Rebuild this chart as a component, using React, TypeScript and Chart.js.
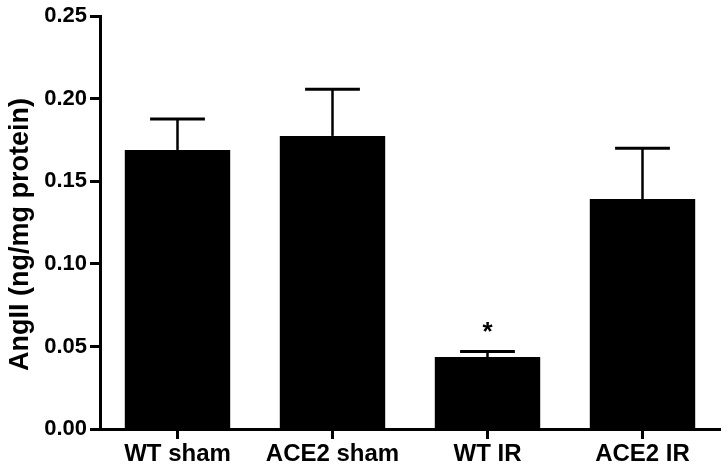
import React, { useEffect, useRef } from "react";
import { Chart, registerables } from "chart.js";

Chart.register(...registerables);

const categories = ["WT sham", "ACE2 sham", "WT IR", "ACE2 IR"];
const means = [0.169, 0.1775, 0.0436, 0.1393];
const sem = [0.0187, 0.0283, 0.0034, 0.0307];
const significance = ["", "", "*", ""];
const yTicks = [0, 0.05, 0.1, 0.15, 0.2, 0.25];
const yTitle = "AngII (ng/mg protein)";

const FONT = "'Liberation Sans', Arial, sans-serif";

const errorBarPlugin = {
  id: "errorBars",
  afterDatasetsDraw(chart: any) {
    const ctx = chart.ctx;
    const meta = chart.getDatasetMeta(0);
    const yScale = chart.scales.y;
    ctx.save();
    ctx.strokeStyle = "#000";
    ctx.fillStyle = "#000";
    meta.data.forEach((bar: any, i: number) => {
      const x = bar.x;
      const top = yScale.getPixelForValue(means[i]);
      const up = yScale.getPixelForValue(means[i] + sem[i]);
      const capHalf = bar.width * 0.26;
      ctx.lineWidth = 2.5;
      ctx.beginPath();
      ctx.moveTo(x, top);
      ctx.lineTo(x, up);
      ctx.stroke();
      ctx.lineWidth = 3;
      ctx.beginPath();
      ctx.moveTo(x - capHalf, up);
      ctx.lineTo(x + capHalf, up);
      ctx.stroke();
      if (significance[i]) {
        ctx.font = `bold 26px ${FONT}`;
        ctx.textAlign = "center";
        ctx.textBaseline = "alphabetic";
        ctx.fillText(significance[i], x, up - 11);
      }
    });
    // y axis title
    const area = chart.chartArea;
    ctx.font = `bold 27px ${FONT}`;
    ctx.textAlign = "center";
    ctx.textBaseline = "middle";
    ctx.translate(21, (area.top + area.bottom) / 2 + 12);
    ctx.rotate(-Math.PI / 2);
    ctx.fillText(yTitle, 0, 0);
    ctx.restore();
  },
};

export default function App() {
  const ref = useRef<HTMLCanvasElement | null>(null);
  useEffect(() => {
    if (!ref.current) return;
    const chart = new Chart(ref.current, {
      type: "bar",
      data: {
        labels: categories,
        datasets: [
          {
            data: means,
            backgroundColor: "#000",
            borderWidth: 0,
            categoryPercentage: 1,
            barPercentage: 0.68,
          },
        ],
      },
      options: {
        animation: false,
        responsive: false,
        devicePixelRatio: 1,
        layout: { padding: { left: 0, right: 8, top: 15, bottom: 0 } },
        plugins: {
          legend: { display: false },
          tooltip: { enabled: false },
        },
        scales: {
          x: {
            offset: true,
            grid: {
              display: true,
              drawOnChartArea: false,
              drawTicks: true,
              tickLength: 10,
              tickWidth: 3,
              tickColor: "#000",
              offset: false,
            },
            border: { display: true, color: "#000", width: 3 },
            ticks: {
              color: "#000",
              font: { family: FONT, size: 24, weight: "bold" },
              padding: 1,
              maxRotation: 0,
            },
            afterFit(scale: any) {
              scale.height = 40;
            },
          },
          y: {
            min: 0,
            max: 0.25,
            afterBuildTicks(scale: any) {
              scale.ticks = yTicks.map((v) => ({ value: v }));
            },
            grid: {
              display: true,
              drawOnChartArea: false,
              drawTicks: true,
              tickLength: 10,
              tickWidth: 3,
              tickColor: "#000",
            },
            border: { display: true, color: "#000", width: 3 },
            ticks: {
              color: "#000",
              font: { family: FONT, size: 22, weight: "bold" },
              padding: 3,
              callback: (v: any) => Number(v).toFixed(2),
            },
            afterFit(scale: any) {
              scale.width = 100;
            },
          },
        },
      },
      plugins: [errorBarPlugin],
    });
    return () => chart.destroy();
  }, []);
  return (
    <div style={{ position: "fixed", left: 0, top: 0, width: 728, height: 469, background: "#fff" }}>
      <canvas ref={ref} width={728} height={469} style={{ width: 728, height: 469, display: "block" }} />
    </div>
  );
}
